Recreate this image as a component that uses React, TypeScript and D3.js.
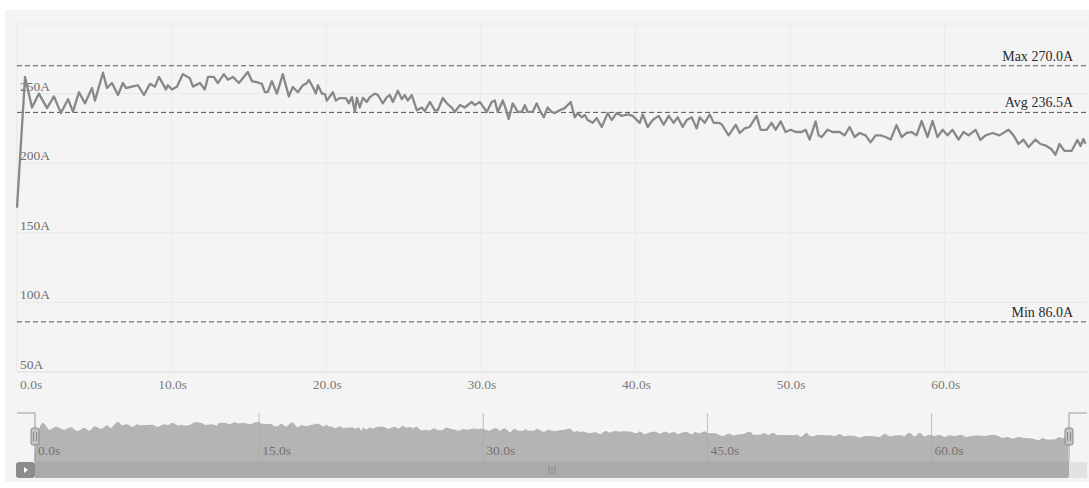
import React from 'react';
import * as d3 from 'd3';

const times = [0, 0.52, 0.97, 1.42, 1.94, 2.39, 2.84, 3.30, 3.62, 4.01,
  4.40, 4.85, 5.04, 5.56, 5.82, 6.14, 6.53, 6.85, 7.05, 7.43,
  7.82, 8.21, 8.60, 8.92, 9.18, 9.63, 9.76, 10.02, 10.34, 10.73,
  11.18, 11.38, 11.83, 12.15, 12.35, 12.73, 12.99, 13.38, 13.64, 13.96,
  14.35, 14.93, 15.19, 15.58, 15.84, 16.03, 16.22, 16.48, 16.81, 17.19,
  17.58, 17.84, 18.16, 18.49, 18.75, 18.88, 19.13, 19.33, 19.46, 19.72,
  19.91, 20.04, 20.43, 20.62, 20.88, 21.27, 21.46, 21.66, 21.85, 21.98,
  22.17, 22.37, 22.62, 22.82, 23.14, 23.34, 23.66, 23.92, 24.11, 24.31,
  24.63, 24.89, 25.08, 25.27, 25.53, 25.86, 26.18, 26.37, 26.70, 27.02,
  27.21, 27.54, 27.80, 28.12, 28.31, 28.64, 28.96, 29.41, 29.61, 29.93,
  30.12, 30.38, 30.70, 30.90, 31.09, 31.42, 31.61, 31.80, 32.06, 32.39,
  32.64, 32.84, 33.03, 33.35, 33.61, 33.81, 34.07, 34.32, 34.58, 34.78,
  35.10, 35.42, 35.81, 36.07, 36.26, 36.52, 36.72, 36.91, 37.23, 37.49,
  37.82, 38.20, 38.46, 38.78, 39.11, 39.50, 39.82, 40.27, 40.47, 40.79,
  41.11, 41.50, 41.82, 42.15, 42.47, 42.73, 43.05, 43.31, 43.63, 43.96,
  44.15, 44.47, 44.80, 45.06, 45.38, 45.57, 46.02, 46.48, 46.74, 47.06,
  47.38, 47.83, 48.09, 48.48, 48.80, 49.06, 49.39, 49.71, 50.03, 50.36,
  50.74, 51.00, 51.26, 51.65, 51.84, 52.04, 52.42, 52.75, 53.20, 53.52,
  53.85, 54.17, 54.49, 54.88, 55.20, 55.53, 55.85, 56.17, 56.50, 56.88,
  57.21, 57.53, 57.85, 58.18, 58.50, 58.89, 59.21, 59.53, 59.86, 60.18,
  60.50, 60.89, 61.21, 61.54, 61.99, 62.31, 62.64, 63.09, 63.54, 64.12,
  64.45, 64.77, 65.09, 65.42, 65.87, 66.19, 66.58, 66.90, 67.16, 67.42,
  67.74, 68.20, 68.58, 68.78, 68.97, 69.10];

const currents = [168, 262, 240, 250, 239.6, 248, 236, 246, 237, 251,
  243, 254, 245, 265, 254, 257.6, 249, 257.6, 254, 255,
  256, 249, 257, 255, 262, 253, 256, 253, 255, 264,
  261, 255, 257.6, 253, 262, 262, 257.6, 264, 260, 262,
  257.6, 265.5, 259, 258, 257, 251, 251, 259, 250, 264,
  248, 254.7, 251, 256, 257.6, 259.8, 254.7, 250, 256, 250,
  249.7, 245, 251, 245, 246.8, 246.8, 243, 247.5, 236.8, 247,
  240, 247, 244, 247.5, 250, 249, 243, 247.5, 249, 244,
  252, 246, 249, 245, 249, 238, 240, 237.5, 244, 238,
  238, 246.8, 243, 240, 236.8, 241.7, 240, 244, 241.7, 244,
  241, 236.8, 244, 245, 236.8, 245, 239, 231.7, 243, 236.8,
  236.8, 241.7, 236.8, 236.8, 243, 238, 233, 240, 236.8, 236,
  238, 239.6, 244, 233, 236, 233, 234.6, 231, 229, 232.5,
  226, 236, 231, 236, 234, 235, 234, 229, 235, 226,
  231, 234, 227.6, 234, 229, 233, 226, 231, 233, 225,
  233, 229, 235, 229, 229, 228, 220, 227.6, 221.7, 225,
  226, 234, 224, 224, 229, 224, 230, 222.4, 224, 222.4,
  222.4, 224, 217, 230, 220, 218.8, 224, 222.4, 222.4, 220,
  226, 218.8, 221.7, 220, 215, 220, 220, 218.8, 217, 227.4,
  218.8, 221.7, 222.4, 220, 230.3, 218.8, 230.3, 218.8, 224, 220,
  224, 217, 222.4, 220, 224, 216.7, 220, 221.7, 220, 224,
  220, 213.8, 217, 211.6, 217, 213.8, 212.4, 210, 206, 213.8,
  208.8, 208.8, 216.7, 212.4, 217.4, 214];

const yTicks = [50, 100, 150, 200, 250, 300];
const xTicks = [0, 10, 20, 30, 40, 50, 60];
const sliderTicks = [0, 15, 30, 45, 60];
const refNames = ['Max', 'Avg', 'Min'];
const refValues = [270.0, 236.5, 86.0];
const X_MAX = 69.2;
const Y_DOMAIN = [50, 300];

const FONT = "'Liberation Serif', 'Times New Roman', serif";

export default function App() {
  const data = times.map((t, i) => ({ t, v: currents[i] }));

  const left = 17, right = 1087, top = 24, bottom = 372;
  const x = d3.scaleLinear().domain([0, X_MAX]).range([left, right]);
  const y = d3.scaleLinear().domain(Y_DOMAIN).range([bottom, top]);

  const line = d3.line<{ t: number; v: number }>()
    .x(d => x(d.t))
    .y(d => y(d.v));

  // slider
  const sL = 35, sR = 1069, sTop = 413, sBot = 462;
  const sx = d3.scaleLinear().domain([0, X_MAX]).range([sL, sR]);
  const ext = d3.extent(currents) as [number, number];
  const off = (ext[1] - ext[0]) * 0.3;
  const sy = d3.scaleLinear().domain([ext[0] - off, ext[1] + off]).range([sBot, sTop]);
  const area = d3.area<{ t: number; v: number }>()
    .x(d => sx(d.t))
    .y0(sBot)
    .y1(d => sy(d.v))
    .curve(d3.curveMonotoneX);

  const gridColor = '#e8e8e8';

  return (
    <svg width={1089} height={488} style={{ position: 'absolute', left: 0, top: 0 }}
      fontFamily={FONT}>
      <rect x={0} y={0} width={1089} height={488} fill="#ffffff" />
      <rect x={5} y={10} width={1084} height={472} fill="#f4f4f4" />

      {yTicks.map(v => (
        <line key={'h' + v} x1={left} x2={right} y1={y(v)} y2={y(v)}
          stroke={v === Y_DOMAIN[0] ? '#dcdcdc' : gridColor} strokeWidth={1} />
      ))}
      {xTicks.map(t => (
        <line key={'v' + t} x1={x(t)} x2={x(t)} y1={top} y2={bottom}
          stroke={gridColor} strokeWidth={1} />
      ))}

      {yTicks.filter(v => v < Y_DOMAIN[1]).map(v => (
        <text key={'yl' + v} x={20} y={y(v) - 3} fontSize={13.5} fill="#6e6e6e">{v}A</text>
      ))}
      {xTicks.map((t, i) => (
        <text key={'xl' + t} x={i === 0 ? x(t) + 3 : x(t) + 1} y={389} fontSize={13.5}
          fill="#7a7a7a" textAnchor={i === 0 ? 'start' : 'middle'}>{t.toFixed(1)}s</text>
      ))}

      {refValues.map((v, i) => (
        <g key={'r' + i}>
          <line x1={left} x2={right} y1={y(v)} y2={y(v)} stroke="#555" strokeWidth={1}
            strokeDasharray="5,3" />
          <text x={1073} y={y(v) - 5} fontSize={14} fill="#2a2a2a" textAnchor="end">
            {refNames[i]} {v.toFixed(1)}A
          </text>
        </g>
      ))}

      <path d={line(data) || ''} fill="none" stroke="#888888" strokeWidth={2.3}
        strokeLinejoin="round" />

      <path d={area(data) || ''} fill="#b4b4b4" stroke="#ababab" strokeWidth={0.8} />
      {sliderTicks.map(t => (
        <g key={'st' + t}>
          {t > 0 && <line x1={sx(t)} x2={sx(t)} y1={sTop} y2={sBot} stroke="#a9a9a9" strokeWidth={0.7} />}
          <text x={sx(t) + 3} y={455} fontSize={13.5} fill="#727272">{t.toFixed(1)}s</text>
        </g>
      ))}
      <path d={`M${left},${sTop}H${sL}V${sBot}`} fill="none" stroke="#999" strokeWidth={1} />
      <path d={`M${right},${sTop}H${sR}V${sBot}`} fill="none" stroke="#999" strokeWidth={1} />

      <rect x={sR} y={sBot} width={right - sR} height={16} fill="#e2e2e2" />
      <path d={`M${sL},${sBot}H${sR}V${sBot + 14}a2,2 0 0 1 -2,2H${sL}Z`} fill="#ababab" />
      {[-3, 0, 3].map(o => (
        <line key={'m' + o} x1={(sL + sR) / 2 + o} x2={(sL + sR) / 2 + o} y1={466} y2={474}
          stroke="#8a8a8a" strokeWidth={1} />
      ))}
      <rect x={16} y={sBot} width={19} height={16} rx={3} fill="#8c8c8c" />
      <path d="M24,467 L28,470 L24,473 Z" fill="#ffffff" />

      {[sL, sR].map((hx, i) => (
        <g key={'hd' + i}>
          <rect x={hx - 4} y={428} width={8} height={17} rx={2} fill="#c4c4c4" stroke="#888"
            strokeWidth={1} />
          <line x1={hx - 1.5} x2={hx - 1.5} y1={432} y2={441} stroke="#888" strokeWidth={1} />
          <line x1={hx + 1.5} x2={hx + 1.5} y1={432} y2={441} stroke="#888" strokeWidth={1} />
        </g>
      ))}
    </svg>
  );
}
